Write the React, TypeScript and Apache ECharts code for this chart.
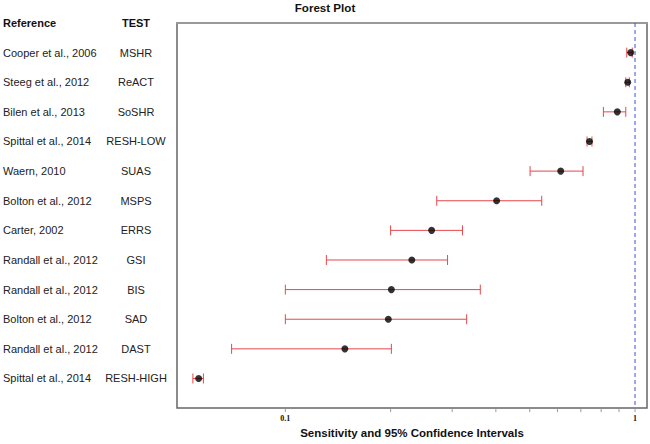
import React, { useEffect, useRef } from "react";
import * as echarts from "echarts";

const references = [
  "Cooper et al., 2006",
  "Steeg et al., 2012",
  "Bilen et al., 2013",
  "Spittal et al., 2014",
  "Waern, 2010",
  "Bolton et al., 2012",
  "Carter, 2002",
  "Randall et al., 2012",
  "Randall et al., 2012",
  "Bolton et al., 2012",
  "Randall et al., 2012",
  "Spittal et al., 2014",
];
const tests = [
  "MSHR",
  "ReACT",
  "SoSHR",
  "RESH-LOW",
  "SUAS",
  "MSPS",
  "ERRS",
  "GSI",
  "BIS",
  "SAD",
  "DAST",
  "RESH-HIGH",
];
const estimates = [0.972, 0.953, 0.89, 0.741, 0.613, 0.402, 0.262, 0.23, 0.201, 0.197, 0.148, 0.0565];
const lowers = [0.947, 0.941, 0.812, 0.729, 0.501, 0.271, 0.2, 0.131, 0.1, 0.1, 0.0702, 0.0544];
const uppers = [0.982, 0.963, 0.941, 0.753, 0.71, 0.541, 0.321, 0.291, 0.361, 0.33, 0.201, 0.0583];
const tickValues = [0.1, 0.2, 0.3, 0.4, 0.5, 0.6, 0.7, 0.8, 0.9, 1];
const xLabels = ["0.1", "1"];
const referenceLine = [1];

const RED = "#e5474b";
const BLUE = "#3f4fd8";
const FONT = "Liberation Sans";

export default function App() {
  const ref = useRef<HTMLDivElement>(null);
  useEffect(() => {
    if (!ref.current) return;
    const chart = echarts.init(ref.current, null, { renderer: "svg" });
    const rows = references.map((_, i) => i + 1);
    const nRows = references.length + 1;
    const option: any = {
      animation: false,
      backgroundColor: "#fff",
      title: {
        text: "Forest Plot",
        left: "center",
        top: -4,
        textStyle: { fontFamily: FONT, fontSize: 11.6, fontWeight: "bold", color: "#111" },
      },
      grid: {
        left: 176,
        top: 23,
        right: 2,
        bottom: 31,
        show: true,
        borderColor: "#666",
        borderWidth: 1.5,
      },
      xAxis: {
        type: "log",
        logBase: 10,
        min: 0.049,
        max: 1.082,
        name: "Sensitivity and 95% Confidence Intervals",
        nameLocation: "middle",
        nameGap: 16,
        nameTextStyle: { fontFamily: FONT, fontSize: 11.5, fontWeight: "bold", color: "#111" },
        axisLine: { show: true, lineStyle: { color: "#999", width: 2 } },
        axisTick: { show: false },
        splitLine: { show: false },
        minorTick: { show: false },
        axisLabel: {
          margin: 6,
          fontFamily: "Liberation Serif",
          fontSize: 8,
          fontWeight: "bold",
          color: "#111",
          formatter: (v: number) => {
            if (Math.abs(v - 0.1) < 1e-6) return xLabels[0];
            if (Math.abs(v - 1) < 1e-6) return xLabels[1];
            return "";
          },
        },
      },
      yAxis: [
        {
          type: "value",
          min: 0,
          max: nRows,
          interval: 1,
          inverse: true,
          position: "left",
          axisLine: { show: false },
          axisTick: { show: false },
          splitLine: { show: false },
          axisLabel: {
            align: "left",
            margin: 174,
            fontFamily: FONT,
            fontSize: 11,
            color: "#222",
            formatter: (v: number) => (v === 0 ? "{h|Reference}" : references[v - 1] ?? ""),
            rich: { h: { fontFamily: FONT, fontSize: 11, fontWeight: "bold", color: "#111" } },
          },
        },
        {
          type: "value",
          min: 0,
          max: nRows,
          interval: 1,
          inverse: true,
          position: "left",
          offset: 0,
          axisLine: { show: false },
          axisTick: { show: false },
          splitLine: { show: false },
          axisLabel: {
            align: "center",
            margin: 41,
            fontFamily: FONT,
            fontSize: 11,
            color: "#222",
            formatter: (v: number) => (v === 0 ? "{h|TEST}" : tests[v - 1] ?? ""),
            rich: { h: { fontFamily: FONT, fontSize: 11, fontWeight: "bold", color: "#111" } },
          },
        },
      ],
      series: [
        {
          type: "custom",
          name: "ticks",
          yAxisIndex: 0,
          clip: false,
          data: tickValues.map((v) => [v, nRows]),
          encode: { x: 0, y: 1 },
          renderItem: (params: any, api: any) => {
            const p = api.coord([api.value(0), api.value(1)]);
            return {
              type: "line",
              shape: { x1: p[0], y1: p[1] + 1, x2: p[0], y2: p[1] + 4 },
              style: { stroke: "#999", lineWidth: 1 },
            };
          },
        },
        {
          type: "custom",
          name: "refline",
          yAxisIndex: 0,
          data: referenceLine.map((v) => [v, 0, nRows]),
          encode: { x: 0, y: [1, 2] },
          renderItem: (params: any, api: any) => {
            const a = api.coord([api.value(0), api.value(1)]);
            const b = api.coord([api.value(0), api.value(2)]);
            return {
              type: "line",
              shape: { x1: a[0], y1: a[1], x2: b[0], y2: b[1] },
              style: { stroke: BLUE, lineWidth: 1, lineDash: [4, 3] },
            };
          },
        },
        {
          type: "custom",
          name: "CI",
          yAxisIndex: 0,
          data: rows.map((r, i) => [lowers[i], uppers[i], r]),
          encode: { x: [0, 1], y: 2 },
          renderItem: (params: any, api: any) => {
            const y = api.value(2);
            const a = api.coord([api.value(0), y]);
            const b = api.coord([api.value(1), y]);
            const h = 5;
            const st = { stroke: RED, lineWidth: 1 };
            return {
              type: "group",
              children: [
                { type: "line", shape: { x1: a[0], y1: a[1], x2: b[0], y2: b[1] }, style: st },
                { type: "line", shape: { x1: a[0], y1: a[1] - h, x2: a[0], y2: a[1] + h }, style: st },
                { type: "line", shape: { x1: b[0], y1: b[1] - h, x2: b[0], y2: b[1] + h }, style: st },
              ],
            };
          },
        },
        {
          type: "scatter",
          name: "estimate",
          yAxisIndex: 0,
          symbol: "circle",
          symbolSize: 7,
          itemStyle: { color: "#000" },
          data: rows.map((r, i) => [estimates[i], r]),
        },
      ],
    };
    chart.setOption(option);
    return () => chart.dispose();
  }, []);
  return (
    <div
      ref={ref}
      style={{ position: "fixed", left: 0, top: 0, width: 650, height: 444 }}
    />
  );
}
